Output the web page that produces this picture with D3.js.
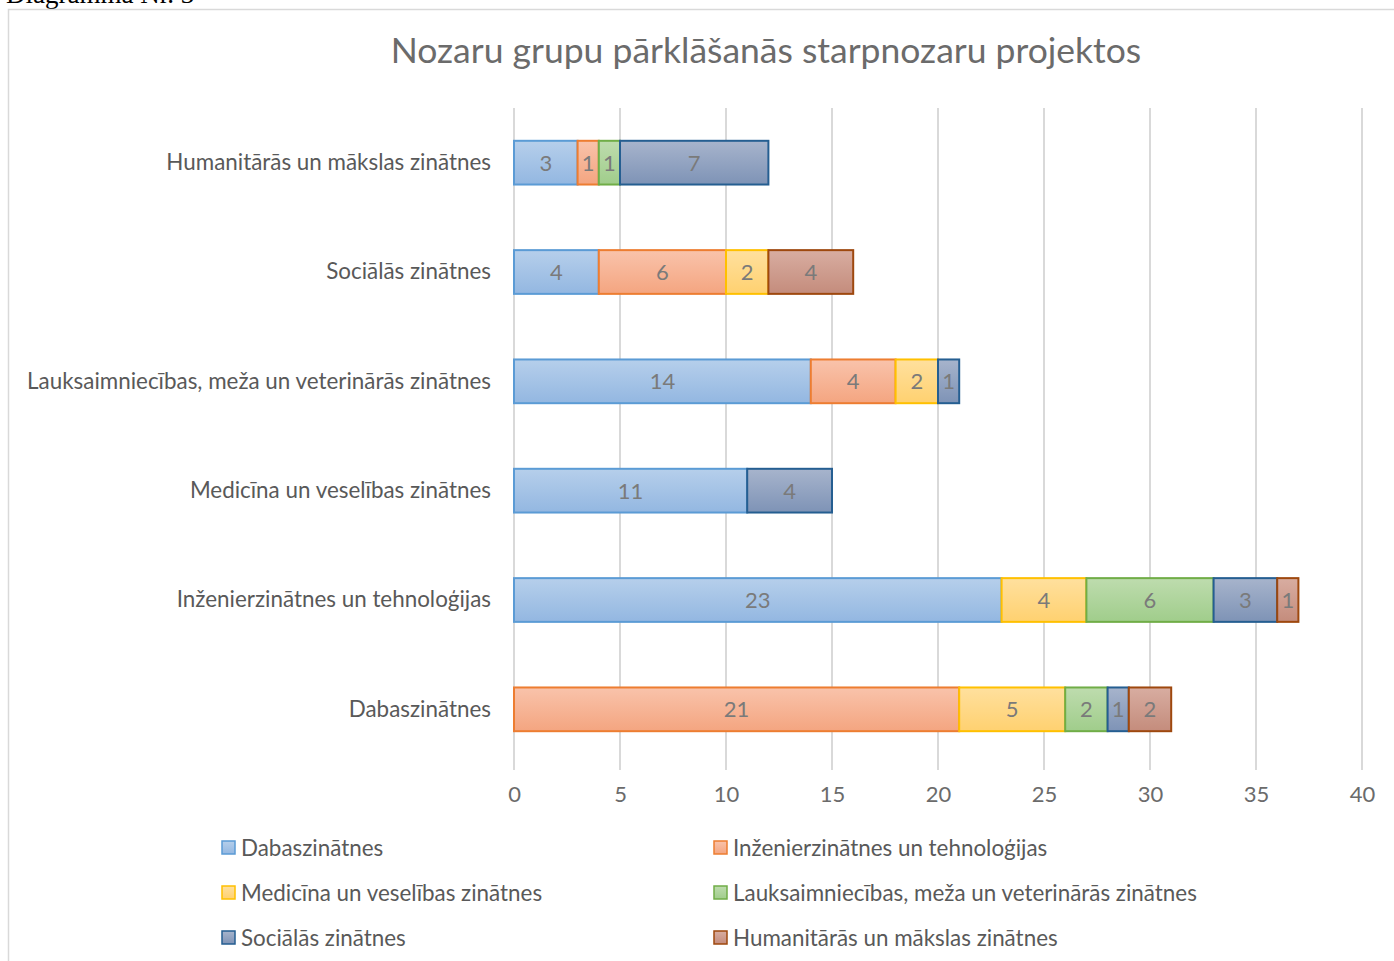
<!DOCTYPE html>
<html>
<head>
<meta charset="utf-8">
<script src="https://cdn.jsdelivr.net/npm/d3@7"></script>
<style>
  body { margin: 0; background: #fff; }
  svg text { font-family: Lato, "Open Sans", sans-serif; }
</style>
</head>
<body>
<div id="chart"></div>
<script>
// Categories (top to bottom)
const categories = [
  "Humanitārās un mākslas zinātnes",
  "Sociālās zinātnes",
  "Lauksaimniecības, meža un veterinārās zinātnes",
  "Medicīna un veselības zinātnes",
  "Inženierzinātnes un tehnoloģijas",
  "Dabaszinātnes"
];

// Series names (stack order)
const seriesNames = [
  "Dabaszinātnes",
  "Inženierzinātnes un tehnoloģijas",
  "Medicīna un veselības zinātnes",
  "Lauksaimniecības, meža un veterinārās zinātnes",
  "Sociālās zinātnes",
  "Humanitārās un mākslas zinātnes"
];

// Values per series, in category order
const dabaszinatnes   = [3, 4, 14, 11, 23, 0];
const inzenierzin     = [1, 6, 4, 0, 0, 21];
const medicina        = [0, 2, 2, 0, 4, 5];
const lauksaimn       = [1, 0, 0, 0, 6, 2];
const socialas        = [7, 0, 1, 4, 3, 1];
const humanitaras     = [0, 4, 0, 0, 1, 2];

const xTicks = [0, 5, 10, 15, 20, 25, 30, 35, 40];

// Colours: [top, bottom, stroke]
const colours = [
  ["#b6cfeb", "#93b7e1", "#5b9bd5"],
  ["#f9c3ab", "#f4a580", "#ed7d31"],
  ["#ffe09e", "#ffd170", "#ffc000"],
  ["#bedcae", "#a0cd8b", "#70ad47"],
  ["#a7b4cc", "#7e93b6", "#255e91"],
  ["#d8ada1", "#c48c7c", "#9e480e"]
];

// Build rows for the stack
const allSeries = [dabaszinatnes, inzenierzin, medicina, lauksaimn, socialas, humanitaras];
const rows = categories.map((c, i) => {
  const r = {category: c};
  seriesNames.forEach((s, j) => r[s] = allSeries[j][i]);
  return r;
});

const W = 1394, H = 961;
const svg = d3.select("#chart").append("svg")
  .attr("width", W)
  .attr("height", H);

// Gradients
const defs = svg.append("defs");
colours.forEach((c, i) => {
  const g = defs.append("linearGradient")
    .attr("id", "grad" + i)
    .attr("x1", 0).attr("y1", 0).attr("x2", 0).attr("y2", 1);
  g.append("stop").attr("offset", "0%").attr("stop-color", c[0]);
  g.append("stop").attr("offset", "100%").attr("stop-color", c[1]);
});

// Document caption (clipped at top, as in the source page)
svg.append("text")
  .attr("x", 6).attr("y", 3)
  .style("font-family", "'Liberation Serif', serif")
  .style("font-size", "27px")
  .attr("fill", "#000")
  .text("Diagramma Nr. 3");

// Chart frame
svg.append("rect")
  .attr("x", 8.5).attr("y", 9.5)
  .attr("width", W + 20).attr("height", H + 20)
  .attr("fill", "none")
  .attr("stroke", "#d9d9d9")
  .attr("stroke-width", 1.5);

// Title
svg.append("text")
  .attr("x", 766).attr("y", 63)
  .attr("text-anchor", "middle")
  .style("font-size", "35.5px")
  .attr("fill", "#6b6b6b")
  .text("Nozaru grupu pārklāšanās starpnozaru projektos");

// Scales
const x = d3.scaleLinear().domain([0, 40]).range([514, 1362]);
const y = d3.scaleBand().domain(categories).range([108, 764])
  .paddingInner(0.6).paddingOuter(0.3);

// Gridlines
svg.append("g").selectAll("line")
  .data(xTicks)
  .join("line")
    .attr("x1", d => x(d)).attr("x2", d => x(d))
    .attr("y1", 108).attr("y2", 770)
    .attr("stroke", "#d9d9d9")
    .attr("stroke-width", 2);

// X axis tick labels
const xAxis = svg.append("g")
  .attr("transform", "translate(0,770)")
  .call(d3.axisBottom(x).tickValues(xTicks).tickSize(0).tickPadding(16));
xAxis.select(".domain").remove();
xAxis.selectAll("text")
  .style("font-size", "22px")
  .style("font-family", "Lato, sans-serif")
  .attr("fill", "#6b6b6b");

// Category labels
const yAxis = svg.append("g")
  .attr("transform", "translate(491,0)")
  .call(d3.axisLeft(y).tickSize(0).tickPadding(0));
yAxis.select(".domain").remove();
yAxis.selectAll("text")
  .style("font-size", "22.4px")
  .style("font-family", "Lato, sans-serif")
  .attr("fill", "#595959");

// Stack
const stack = d3.stack().keys(seriesNames);
const stacked = stack(rows);

const layers = svg.append("g").selectAll("g.layer")
  .data(stacked)
  .join("g")
    .attr("class", "layer")
    .attr("fill", (d, i) => `url(#grad${i})`)
    .attr("stroke", (d, i) => colours[i][2]);

layers.selectAll("rect")
  .data(d => d.filter(p => p[1] - p[0] > 0))
  .join("rect")
    .attr("x", d => x(d[0]))
    .attr("y", d => y(d.data.category))
    .attr("width", d => x(d[1]) - x(d[0]))
    .attr("height", y.bandwidth())
    .attr("stroke-width", 2);

// Data labels
layers.selectAll("text")
  .data(d => d.filter(p => p[1] - p[0] > 0).map(p => ({p, key: d.key})))
  .join("text")
    .attr("x", d => (x(d.p[0]) + x(d.p[1])) / 2)
    .attr("y", d => y(d.p.data.category) + y.bandwidth() / 2)
    .attr("dy", "0.36em")
    .attr("text-anchor", "middle")
    .attr("stroke", "none")
    .attr("fill", "#7a7a7a")
    .style("font-size", "22px")
    .text(d => d.p[1] - d.p[0]);

// Legend
const legendPos = [
  [222, 848], [714, 848],
  [222, 893], [714, 893],
  [222, 938], [714, 938]
];
const legend = svg.append("g").selectAll("g")
  .data(seriesNames)
  .join("g")
    .attr("transform", (d, i) => `translate(${legendPos[i][0]}, ${legendPos[i][1]})`);

legend.append("rect")
  .attr("x", 0).attr("y", -7)
  .attr("width", 13).attr("height", 13)
  .attr("fill", (d, i) => `url(#grad${i})`)
  .attr("stroke", (d, i) => colours[i][2])
  .attr("stroke-width", 1.5);

legend.append("text")
  .attr("x", 19).attr("y", 0)
  .attr("dy", "0.36em")
  .style("font-size", "22.4px")
  .attr("fill", "#595959")
  .text(d => d);
</script>
</body>
</html>
